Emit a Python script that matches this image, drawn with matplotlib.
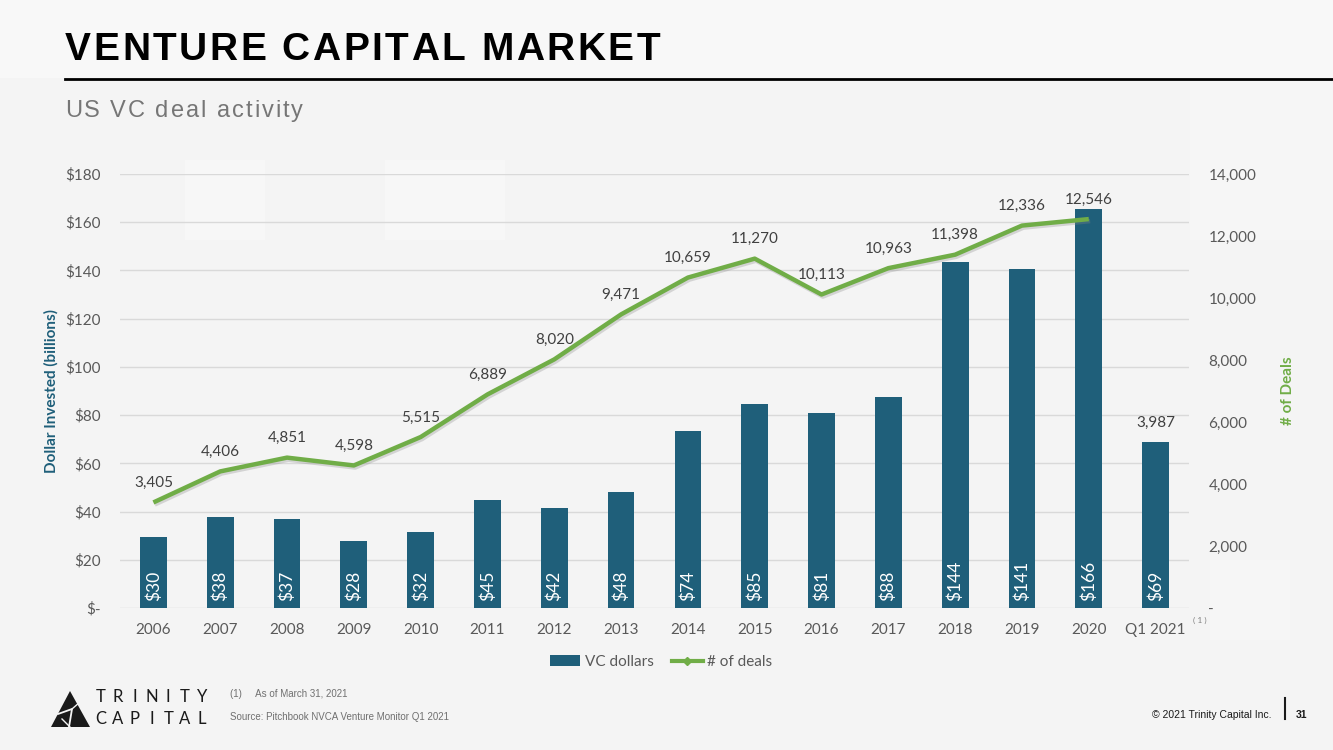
import matplotlib
matplotlib.use("Agg")
import matplotlib.pyplot as plt
from matplotlib.lines import Line2D
from matplotlib.patches import Patch, Polygon, Rectangle
import matplotlib.patheffects as pe

categories = ["2006", "2007", "2008", "2009", "2010", "2011", "2012", "2013",
              "2014", "2015", "2016", "2017", "2018", "2019", "2020", "Q1 2021"]
vc_dollars = [29.6, 37.7, 36.8, 27.6, 31.6, 44.8, 41.6, 48.0,
              73.6, 84.6, 81.0, 87.6, 143.6, 140.6, 165.6, 68.8]
deals = [3405, 4406, 4851, 4598, 5515, 6889, 8020, 9471,
         10659, 11270, 10113, 10963, 11398, 12336, 12546]
q1_2021_deals = 3987
left_ticks = [0, 20, 40, 60, 80, 100, 120, 140, 160, 180]
right_ticks = [0, 2000, 4000, 6000, 8000, 10000, 12000, 14000]

W, H = 1333, 750
BAR = "#1F5F7A"
GREEN = "#70AD47"
TXT = "#595959"
FONT = "Lato"

fig = plt.figure(figsize=(W / 100, H / 100), dpi=100)
fig.patch.set_facecolor("#F4F4F4")
renderer = fig.canvas.get_renderer()

# subtle background
bg = fig.add_axes([0, 0, 1, 1], zorder=-10)
bg.set_xlim(0, W); bg.set_ylim(H, 0); bg.axis("off")
bg.add_patch(Rectangle((0, 0), W, 78, color="#F8F8F8", lw=0))
for (x0, y0, w, h, c) in [(185, 160, 80, 80, "#F7F7F7"), (385, 160, 120, 80, "#F7F7F7"),
                          (1190, 80, 143, 160, "#F6F6F6"), (1210, 560, 80, 80, "#F6F6F6")]:
    bg.add_patch(Rectangle((x0, y0), w, h, color=c, lw=0))


def spaced_text(x_px, y_px, s, target_w, **kw):
    """Draw string with letter spacing so it spans target_w pixels."""
    arts = []
    widths = []
    for ch in s:
        t = fig.text(0, 0, ch if ch != " " else "\u00a0", ha="left", va="center", **kw)
        bb = t.get_window_extent(renderer)
        arts.append(t)
        widths.append(bb.width if ch != " " else bb.width)
    natural = sum(widths)
    gap = (target_w - natural) / max(len(s) - 1, 1)
    cx = x_px
    for t, w in zip(arts, widths):
        t.set_position((cx / W, 1 - y_px / H))
        cx += w + gap


# title block
spaced_text(65, 50, "VENTURE CAPITAL MARKET", 595, fontsize=28, fontweight="bold",
            family="Liberation Sans", color="black")
fig.add_artist(Line2D([65 / W, 1], [1 - 79 / H, 1 - 79 / H], color="black", lw=2))
spaced_text(65, 111, "US VC deal activity", 238, fontsize=17, family="Liberation Sans",
            color="#767676")

# main axes
ax = fig.add_axes([120 / W, 1 - 608 / H, (1189 - 120) / W, 434 / H])
ax.set_facecolor("none")
x = list(range(len(categories)))
ax.bar(x, vc_dollars, width=0.4, color=BAR, zorder=3)
ax.set_xlim(-0.5, len(categories) - 0.5)
ax.set_ylim(0, 180)
ax.set_yticks(left_ticks)
ax.set_yticklabels(["$-" if v == 0 else f"${v}" for v in left_ticks])
ax.set_xticks(x)
ax.set_xticklabels(categories)
ax.grid(axis="y", color="#D9D9D9", lw=1, zorder=0)
for s in ax.spines.values():
    s.set_visible(False)
ax.tick_params(length=0, labelsize=11, labelcolor=TXT, pad=14)
ax.tick_params(axis="x", pad=11)
for lab in ax.get_xticklabels() + ax.get_yticklabels():
    lab.set_family(FONT)
ax.set_ylabel("Dollar Invested (billions)", fontsize=11, fontweight="bold",
              color=BAR, family=FONT, labelpad=5)

for xi, v in zip(x, vc_dollars):
    ax.annotate(f"${v:.0f}", (xi, 0), xytext=(0, 5), textcoords="offset points",
                rotation=90, ha="center", va="bottom", color="white",
                fontsize=12.5, family=FONT, zorder=4)

ax2 = ax.twinx()
ax2.set_ylim(0, 14000)
ax2.set_yticks(right_ticks)
ax2.set_yticklabels(["-" if v == 0 else f"{v:,}" for v in right_ticks])
for s in ax2.spines.values():
    s.set_visible(False)
ax2.tick_params(length=0, labelsize=11, labelcolor=TXT, pad=14)
for lab in ax2.get_yticklabels():
    lab.set_family(FONT)
ax2.set_ylabel("# of Deals", fontsize=11, fontweight="bold", color=GREEN,
               family=FONT, labelpad=18)
ax2.plot(x[:len(deals)], deals, color=GREEN, lw=3.2, solid_capstyle="butt", zorder=5,
         path_effects=[pe.SimpleLineShadow(offset=(1, -1.5), shadow_color="#888888", alpha=0.3),
                       pe.Normal()])
for xi, d in zip(x, deals):
    ax2.annotate(f"{d:,}", (xi, d), xytext=(0, 14), textcoords="offset points",
                 ha="center", va="center", fontsize=11, color="#404040", family=FONT)
ax.annotate(f"{q1_2021_deals:,}", (x[-1], vc_dollars[-1]), xytext=(0, 14),
            textcoords="offset points", ha="center", va="center", fontsize=11,
            color="#404040", family=FONT)

fig.text(1193 / W, 1 - 620 / H, "( 1 )", fontsize=6, color="#808080", family=FONT,
         ha="left", va="center")

# legend
handles = [Patch(facecolor=BAR, edgecolor="none", label="VC dollars"),
           Line2D([], [], color=GREEN, lw=3, marker="D", markersize=4,
                  markerfacecolor=GREEN, label="# of deals")]
fig.legend(handles=handles, loc="center", bbox_to_anchor=(661 / W, 1 - 662 / H),
           ncol=2, frameon=False, prop={"family": FONT, "size": 11},
           labelcolor=TXT, handlelength=2.0, handletextpad=0.3, columnspacing=1.2)

# footnotes
fig.text(230 / W, 1 - 694 / H, "(1)     As of March 31, 2021", fontsize=7,
         family="Liberation Sans", color="#707070", ha="left", va="center")
fig.text(230 / W, 1 - 717 / H, "Source: Pitchbook NVCA Venture Monitor Q1 2021", fontsize=7,
         family="Liberation Sans", color="#707070", ha="left", va="center")

# logo
lg = fig.add_axes([0, 0, 1, 1], zorder=5)
lg.set_xlim(0, W); lg.set_ylim(H, 0); lg.axis("off")
lg.add_patch(Polygon([(70, 691), (51, 727), (90, 727)], closed=True, color="#1A1A1A", lw=0))
lg.plot([58, 72, 69], [714, 709, 727], color="#F4F4F4", lw=1.3)
lg.plot([72, 80], [709, 702], color="#F4F4F4", lw=1.0)
lg.plot([62, 70], [719, 727], color="#F4F4F4", lw=1.0)
for i, ch in enumerate("TRINITY"):
    lg.text(101 + i * 16.8, 697, ch, fontsize=12, family="Lato", color="#1A1A1A",
            ha="center", va="center")
for i, ch in enumerate("CAPITAL"):
    lg.text(101 + i * 16.8, 719, ch, fontsize=12, family="Lato", color="#1A1A1A",
            ha="center", va="center")

# footer
fig.text(1272 / W, 1 - 715 / H, "\u00a9 2021 Trinity Capital Inc.", fontsize=7.5,
         family="Liberation Sans", color="#1A1A1A", ha="right", va="center")
fig.add_artist(Line2D([1285 / W, 1285 / W], [1 - 698 / H, 1 - 719 / H], color="#1A1A1A", lw=1.5))
fig.text(1296 / W, 1 - 715 / H, "31", fontsize=7.5, fontweight="bold",
         family="Liberation Sans", color="#1A1A1A", ha="left", va="center")

fig.savefig("out.png", dpi=100, facecolor=fig.get_facecolor())
